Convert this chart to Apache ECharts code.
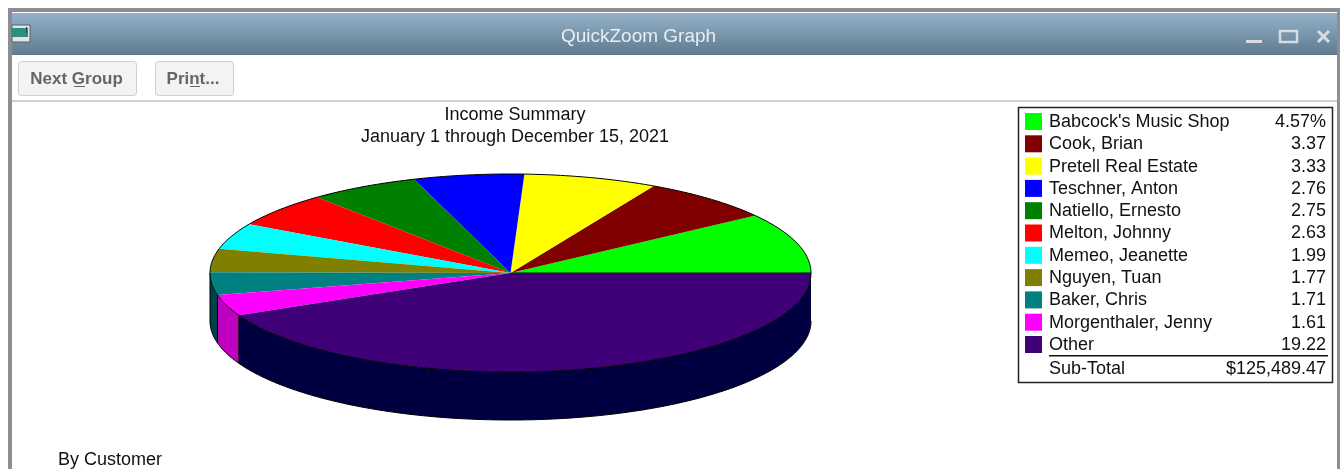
<!DOCTYPE html>
<html>
<head>
<meta charset="utf-8">
<title>QuickZoom Graph</title>
<script src="https://cdn.jsdelivr.net/npm/echarts@6/dist/echarts.min.js"></script>
<style>
  html, body { margin: 0; padding: 0; background: #fff; }
  #chart { width: 1340px; height: 469px; }
</style>
</head>
<body>
<div id="chart"></div>
<script>
const customers = ["Babcock's Music Shop", 'Cook, Brian', 'Pretell Real Estate', 'Teschner, Anton', 'Natiello, Ernesto',
  'Melton, Johnny', 'Memeo, Jeanette', 'Nguyen, Tuan', 'Baker, Chris', 'Morgenthaler, Jenny', 'Other'];
const percentLabels = ['4.57%', '3.37', '3.33', '2.76', '2.75', '2.63', '1.99', '1.77', '1.71', '1.61', '19.22'];
// wedge sizes as drawn; the Other wedge measures a bit larger in the picture than its 19.22 label
const sliceValues = [4.57, 3.37, 3.33, 2.76, 2.75, 2.63, 1.99, 1.77, 1.71, 1.61, 19.96];
const sliceColors = ['#00ff00', '#800000', '#ffff00', '#0000ff', '#008000', '#ff0000', '#00ffff', '#808000', '#008080', '#ff00ff', '#400078'];
const sideColors = ['#008000', '#400000', '#808000', '#000080', '#004000', '#800000', '#008080', '#404000', '#004048', '#c000c0', '#000040'];
const subTotalLabel = 'Sub-Total';
const subTotalValue = '$125,489.47';

const FONT = '"Liberation Sans", Arial, sans-serif';
const cx = 510.5, cy = 273, rx = 300.5, ry = 99, depth = 48;

const chart = echarts.init(document.getElementById('chart'));

const total = sliceValues.reduce((a, b) => a + b, 0);
const startAngles = [];
sliceValues.reduce((sum, v, i) => { startAngles[i] = sum / total * 360; return sum + v; }, 0);

function rimPoint(deg, drop) {
  const t = deg * Math.PI / 180;
  return [cx + rx * Math.cos(t), cy - ry * Math.sin(t) + (drop || 0)];
}

function arcPoints(from, to, drop) {
  const pts = [];
  const n = Math.max(2, Math.ceil(to - from));
  for (let i = 0; i <= n; i++) pts.push(rimPoint(from + (to - from) * i / n, drop));
  return pts;
}

function renderSlice(params, api) {
  const i = params.dataIndex;
  const from = startAngles[i];
  const to = from + api.value(0) / total * 360;
  const children = [];

  // side wall, only the front half of the disc shows it
  const sideFrom = Math.max(from, 180);
  if (to > 180) {
    const top = arcPoints(sideFrom, to, 0);
    const bottom = arcPoints(sideFrom, to, depth).reverse();
    children.push({ type: 'polygon', shape: { points: top.concat(bottom) }, style: { fill: sideColors[i] } });
    children.push({ type: 'polyline', shape: { points: bottom }, style: { stroke: '#000', lineWidth: 1, fill: null } });
    children.push({ type: 'line', shape: { x1: top[0][0], y1: top[0][1], x2: top[0][0], y2: top[0][1] + depth }, style: { stroke: '#000', lineWidth: 1 } });
    if (to >= 360) {
      const e = top[top.length - 1];
      children.push({ type: 'line', shape: { x1: e[0], y1: e[1], x2: e[0], y2: e[1] + depth }, style: { stroke: '#000', lineWidth: 1 } });
    }
  }

  const rim = arcPoints(from, to, 0);
  children.push({ type: 'polygon', shape: { points: [[cx, cy]].concat(rim) }, style: { fill: sliceColors[i] } });
  children.push({ type: 'polyline', shape: { points: rim }, style: { stroke: '#000', lineWidth: 1, fill: null } });
  if (i === 0) {
    children.push({ type: 'line', shape: { x1: cx, y1: cy, x2: cx + rx, y2: cy }, style: { stroke: '#100020', lineWidth: 1 } });
  }
  return { type: 'group', children: children };
}

// window frame and toolbar
const chrome = [
  { type: 'rect', shape: { x: 8, y: 8, width: 1332, height: 461 }, style: { fill: '#8b8e94' }, z: 0 },
  { type: 'rect', shape: { x: 12, y: 12, width: 1325, height: 457 }, style: { fill: '#fff' }, z: 0 },
  {
    type: 'rect', shape: { x: 12, y: 13, width: 1325, height: 42 }, z: 1,
    style: { fill: new echarts.graphic.LinearGradient(0, 0, 0, 1, [{ offset: 0, color: '#94b2c9' }, { offset: 1, color: '#5f7a8f' }]) }
  },
  { type: 'rect', shape: { x: 12, y: 25, width: 18, height: 17 }, style: { fill: '#e4e4e0', stroke: '#55606a', lineWidth: 1 }, z: 2 },
  { type: 'rect', shape: { x: 12, y: 28, width: 16, height: 9 }, style: { fill: '#2e8f7c' }, z: 3 },
  { type: 'rect', shape: { x: 26, y: 27, width: 1, height: 6 }, style: { fill: '#20407a' }, z: 3 },
  { type: 'text', x: 638.5, y: 37, style: { text: 'QuickZoom Graph', fill: '#e8eef2', font: '19px ' + FONT, align: 'center', verticalAlign: 'middle' }, z: 3 },
  // window buttons
  { type: 'rect', shape: { x: 1246, y: 40, width: 16, height: 3 }, style: { fill: '#d6dce0' }, z: 3 },
  { type: 'rect', shape: { x: 1280, y: 31, width: 17, height: 11 }, style: { fill: null, stroke: '#d6dce0', lineWidth: 2.5 }, z: 3 },
  { type: 'line', shape: { x1: 1318, y1: 31, x2: 1329, y2: 42 }, style: { stroke: '#d6dce0', lineWidth: 3 }, z: 3 },
  { type: 'line', shape: { x1: 1329, y1: 31, x2: 1318, y2: 42 }, style: { stroke: '#d6dce0', lineWidth: 3 }, z: 3 },
  // toolbar buttons
  { type: 'rect', shape: { x: 18.5, y: 61.5, width: 118, height: 34, r: 3 }, style: { fill: '#f3f3f3', stroke: '#cfcfcf', lineWidth: 1 }, z: 2 },
  { type: 'text', x: 76.5, y: 79, style: { text: 'Next Group', fill: '#666', font: 'bold 17px ' + FONT, align: 'center', verticalAlign: 'middle' }, z: 3 },
  { type: 'rect', shape: { x: 74, y: 86, width: 11, height: 1 }, style: { fill: '#666' }, z: 3 },
  { type: 'rect', shape: { x: 155.5, y: 61.5, width: 78, height: 34, r: 3 }, style: { fill: '#f3f3f3', stroke: '#cfcfcf', lineWidth: 1 }, z: 2 },
  { type: 'text', x: 193, y: 79, style: { text: 'Print...', fill: '#666', font: 'bold 17px ' + FONT, align: 'center', verticalAlign: 'middle' }, z: 3 },
  { type: 'rect', shape: { x: 190, y: 86, width: 10, height: 1 }, style: { fill: '#666' }, z: 3 },
  { type: 'rect', shape: { x: 12, y: 100, width: 1325, height: 2 }, style: { fill: '#cfcfcf' }, z: 2 },
  { type: 'text', x: 58, y: 460, style: { text: 'By Customer', fill: '#111', font: '18px ' + FONT, verticalAlign: 'middle' }, z: 3 }
];

// legend table, one row per customer
const tableLeft = 1049, tableRight = 1326, rowTop = 121.5, rowStep = 22.3;
const legendItems = [
  { type: 'rect', shape: { x: 1018.5, y: 107.5, width: 314, height: 275 }, style: { fill: '#fff', stroke: '#222', lineWidth: 1.5 }, z: 2 }
];
customers.forEach((name, i) => {
  const y = rowTop + i * rowStep;
  legendItems.push({ type: 'rect', shape: { x: 1025, y: y - 8.5, width: 17, height: 17 }, style: { fill: sliceColors[i] }, z: 3 });
  legendItems.push({ type: 'text', x: tableLeft, y: y + 0.5, style: { text: name, fill: '#111', font: '18px ' + FONT, verticalAlign: 'middle' }, z: 3 });
  legendItems.push({ type: 'text', x: tableRight, y: y + 0.5, style: { text: percentLabels[i], fill: '#111', font: '18px ' + FONT, align: 'right', verticalAlign: 'middle' }, z: 3 });
});
legendItems.push({ type: 'rect', shape: { x: tableLeft, y: 355, width: tableRight + 2 - tableLeft, height: 1.5 }, style: { fill: '#111' }, z: 3 });
legendItems.push({ type: 'text', x: tableLeft, y: 369, style: { text: subTotalLabel, fill: '#111', font: '18px ' + FONT, verticalAlign: 'middle' }, z: 3 });
legendItems.push({ type: 'text', x: tableRight, y: 369, style: { text: subTotalValue, fill: '#111', font: '18px ' + FONT, align: 'right', verticalAlign: 'middle' }, z: 3 });

const option = {
  animation: false,
  backgroundColor: '#fff',
  title: {
    text: 'Income Summary\nJanuary 1 through December 15, 2021',
    left: 510,
    top: 99,
    textAlign: 'center',
    textStyle: { fontFamily: FONT, fontSize: 18, fontWeight: 'normal', color: '#111', lineHeight: 22 }
  },
  graphic: { elements: chrome.concat(legendItems) },
  series: [{
    type: 'custom',
    coordinateSystem: 'none',
    renderItem: renderSlice,
    z: 5,
    data: sliceValues.map((v, i) => ({ name: customers[i], value: v }))
  }]
};

chart.setOption(option);
</script>
</body>
</html>
